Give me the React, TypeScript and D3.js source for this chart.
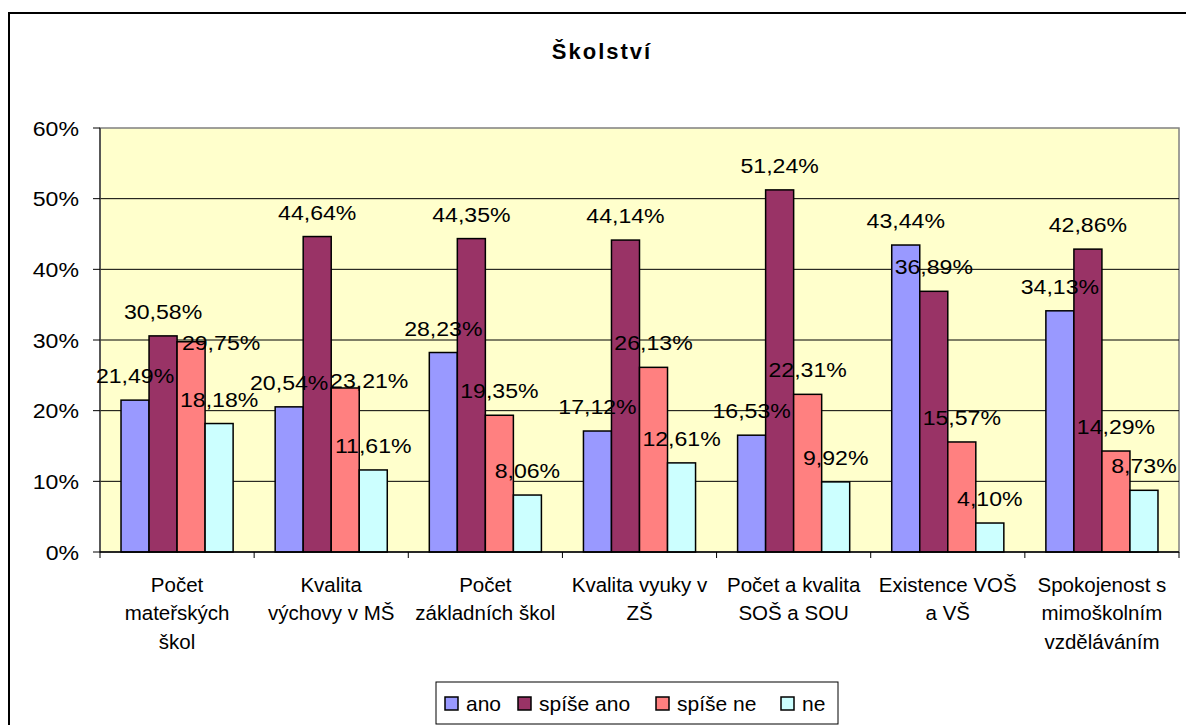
import React, { useEffect, useRef } from "react";
import * as d3 from "d3";

const categories = [
  ["Počet", "mateřských", "škol"],
  ["Kvalita", "výchovy v MŠ"],
  ["Počet", "základních škol"],
  ["Kvalita vyuky v", "ZŠ"],
  ["Počet a kvalita", "SOŠ a SOU"],
  ["Existence VOŠ", "a VŠ"],
  ["Spokojenost s", "mimoškolním", "vzděláváním"],
];

const seriesNames = ["ano", "spíše ano", "spíše ne", "ne"];
const colors = ["#9999FF", "#993366", "#FF8080", "#CCFFFF"];

const ano = [21.49, 20.54, 28.23, 17.12, 16.53, 43.44, 34.13];
const spiseAno = [30.58, 44.64, 44.35, 44.14, 51.24, 36.89, 42.86];
const spiseNe = [29.75, 23.21, 19.35, 26.13, 22.31, 15.57, 14.29];
const ne = [18.18, 11.61, 8.06, 12.61, 9.92, 4.1, 8.73];

const yTicks = [0, 10, 20, 30, 40, 50, 60];

const fmt = (v: number) => v.toFixed(2).replace(".", ",") + "%";

// labels Excel shifted to avoid collisions ("series-category": [dx, dy])
const labelNudge: Record<string, [number, number]> = {
  "2-0": [30, 25],
  "2-1": [24, 17],
};

export default function App() {
  const svgRef = useRef<SVGSVGElement>(null);
  const width = 1186;
  const height = 725;
  const left = 100, right = 1179, top = 128, bottom = 552;

  useEffect(() => {
    const svg = d3.select(svgRef.current);
    svg.selectAll("*").remove();
    const font = "'Liberation Sans', Arial, sans-serif";
    const values = [ano, spiseAno, spiseNe, ne];

    svg.append("rect").attr("width", width).attr("height", height).attr("fill", "#fff");
    svg.append("rect")
      .attr("x", 9).attr("y", 13).attr("width", 1300).attr("height", 900)
      .attr("fill", "none").attr("stroke", "#000").attr("stroke-width", 2);

    svg.append("text")
      .attr("x", 602).attr("y", 59)
      .attr("text-anchor", "middle")
      .attr("font-family", font).attr("font-weight", "bold")
      .attr("font-size", 22).attr("letter-spacing", 2)
      .text("Školství");

    const x = d3.scaleBand<number>()
      .domain(d3.range(categories.length))
      .range([left, right]);
    const xs = d3.scaleBand<number>()
      .domain(d3.range(seriesNames.length))
      .range([0, x.bandwidth()])
      .paddingOuter(0.75);
    const y = d3.scaleLinear().domain([0, 60]).range([bottom, top]);

    svg.append("rect")
      .attr("x", left).attr("y", top)
      .attr("width", right - left).attr("height", bottom - top)
      .attr("fill", "#FFFFCC").attr("stroke", "#808080").attr("stroke-width", 1.5);

    // gridlines
    svg.append("g").selectAll("line")
      .data(yTicks.slice(1, -1))
      .join("line")
      .attr("x1", left).attr("x2", right)
      .attr("y1", (d) => y(d)).attr("y2", (d) => y(d))
      .attr("stroke", "#000").attr("stroke-width", 1);

    // y axis
    const ya = svg.append("g");
    ya.append("line")
      .attr("x1", left).attr("x2", left).attr("y1", top).attr("y2", bottom)
      .attr("stroke", "#404040").attr("stroke-width", 1.5);
    ya.selectAll("line.tk")
      .data(yTicks)
      .join("line")
      .attr("class", "tk")
      .attr("x1", 93).attr("x2", left)
      .attr("y1", (d) => y(d)).attr("y2", (d) => y(d))
      .attr("stroke", "#000");
    ya.selectAll("text")
      .data(yTicks)
      .join("text")
      .attr("transform", (d) => `translate(79,${y(d) + 7.5}) scale(1.1,1)`)
      .attr("text-anchor", "end")
      .attr("font-family", font).attr("font-size", 21)
      .text((d) => `${d}%`);

    // bars
    values.forEach((vals, si) => {
      svg.append("g").selectAll("rect")
        .data(vals)
        .join("rect")
        .attr("x", (_, i) => x(i)! + xs(si)!)
        .attr("y", (d) => y(d))
        .attr("width", xs.bandwidth())
        .attr("height", (d) => bottom - y(d))
        .attr("fill", colors[si])
        .attr("stroke", "#000").attr("stroke-width", 1.5);
    });

    // x axis
    svg.append("line")
      .attr("x1", left).attr("x2", right).attr("y1", bottom).attr("y2", bottom)
      .attr("stroke", "#000").attr("stroke-width", 1.5);
    svg.append("g").selectAll("line")
      .data(d3.range(categories.length + 1))
      .join("line")
      .attr("x1", (i) => left + i * x.step()).attr("x2", (i) => left + i * x.step())
      .attr("y1", bottom).attr("y2", bottom + 6)
      .attr("stroke", "#000");

    // category labels
    categories.forEach((lines, i) => {
      const t = svg.append("text")
        .attr("text-anchor", "middle")
        .attr("font-family", font).attr("font-size", 20.5);
      lines.forEach((ln, k) => {
        t.append("tspan")
          .attr("x", x(i)! + x.bandwidth() / 2)
          .attr("y", 592 + k * 28.3)
          .text(ln);
      });
    });

    // data labels
    values.forEach((vals, si) => {
      svg.append("g").selectAll("text")
        .data(vals)
        .join("text")
        .attr("transform", (d, i) => {
          const [dx, dy] = labelNudge[`${si}-${i}`] ?? [0, 0];
          const cx = x(i)! + xs(si)! + xs.bandwidth() / 2 + dx;
          return `translate(${cx},${y(d) - 17 + dy}) scale(1.1,1)`;
        })
        .attr("text-anchor", "middle")
        .attr("font-family", font).attr("font-size", 21)
        .text((d) => fmt(d));
    });

    // legend
    const lg = svg.append("g");
    lg.append("rect")
      .attr("x", 436).attr("y", 682).attr("width", 402).attr("height", 42)
      .attr("fill", "#fff").attr("stroke", "#000").attr("stroke-width", 1);
    const lx = [445, 518, 656, 781];
    seriesNames.forEach((name, si) => {
      lg.append("rect")
        .attr("x", lx[si]).attr("y", 697).attr("width", 13).attr("height", 13)
        .attr("fill", colors[si]).attr("stroke", "#000").attr("stroke-width", 1.5);
      lg.append("text")
        .attr("x", lx[si] + 21).attr("y", 711)
        .attr("font-family", font).attr("font-size", 21)
        .text(name);
    });
  }, []);

  return (
    <svg
      ref={svgRef}
      width={width}
      height={height}
      style={{ position: "absolute", left: 0, top: 0 }}
    />
  );
}
